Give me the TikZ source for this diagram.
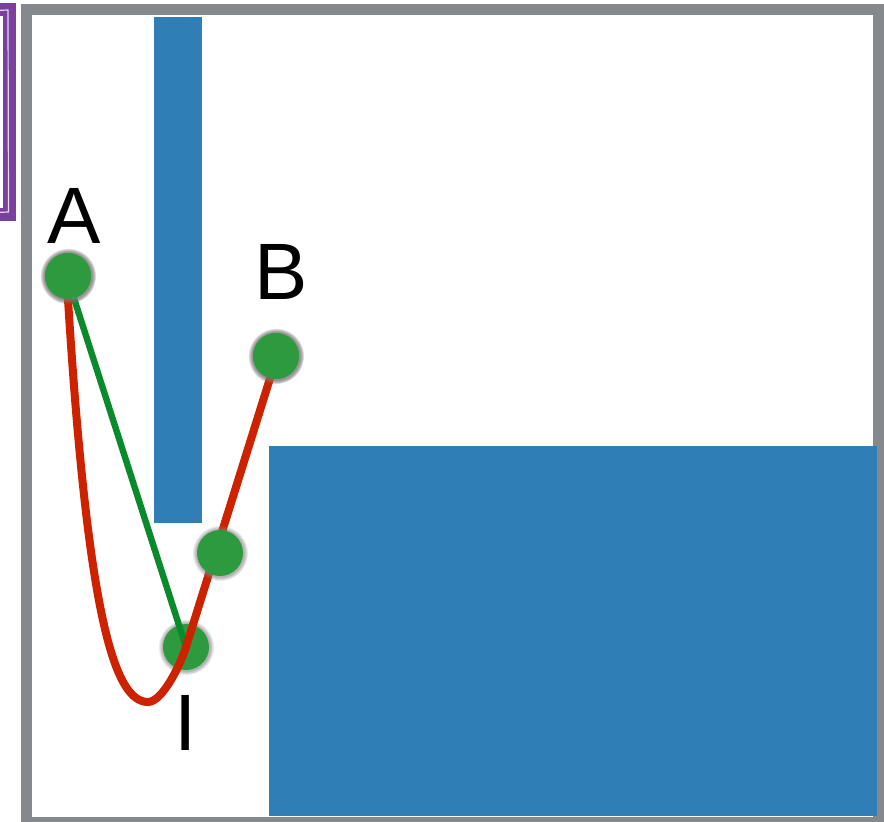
\documentclass[tikz,border=0pt]{standalone}
\usepackage{fontspec}
\setmainfont{Liberation Sans}
\usetikzlibrary{positioning, shadows}
\definecolor{FrameGray}{HTML}{85888C}
\definecolor{WallBlue}{HTML}{2F7FB6}
\definecolor{DotGreen}{HTML}{2E9A40}
\definecolor{PathGreen}{HTML}{0B8A2C}
\definecolor{PathRed}{HTML}{CC2200}
\definecolor{MarkPurple}{HTML}{7B3F9E}
\tikzset{
  wall/.style={fill=WallBlue, draw=none},
  waypoint/.style={circle, fill=DotGreen, minimum size=23pt, inner sep=0pt, circular drop shadow={shadow xshift=0pt, shadow yshift=0pt, shadow scale=1.22, opacity=0.6}},
  ptlabel/.style={inner sep=0pt, font=\fontsize{40}{48}\selectfont},
  straightpath/.style={draw=PathGreen, line width=3.2pt},
  curvedpath/.style={draw=PathRed, line width=4pt, line cap=round}
}

\begin{document}
\begin{tikzpicture}[x=0.5pt, y=-0.5pt]
\useasboundingbox (0,0) rectangle (884,821);
% frame and purple mark
\draw[FrameGray, line width=5.5pt] (26,9.5) rectangle (878.5,822.5);
\draw[MarkPurple, line width=6.5pt] (-20,9.5) rectangle (9.5,214);
\draw[white, line width=0.6pt, opacity=0.8] (-20,11) -- (8,10) -- (8.5,212) -- (-20,213);
% obstacles
\fill[wall] (154,17) rectangle (202,523);
\fill[wall] (269,446) rectangle (877,816);
% waypoints
\node[waypoint] (Idot) at (186,647) {};
\node[waypoint] (A) at (68,276) {};
\node[waypoint] (B) at (276,356) {};
% paths
\draw[straightpath] (A.-75) -- (Idot.center) -- (B.-105);
\draw[curvedpath] (A.south) .. controls (88,620) and (115,702) .. (148,702)
  .. controls (162,702) and (180,666) .. (Idot.center) -- (B.-105);
\node[waypoint] (M) at (220,553) {};
\node[waypoint] at (A) {};
\node[waypoint] at (B) {};
% labels
\node[ptlabel, above=4.5pt of A, xshift=3pt] (Alabel) {A};
\node[ptlabel, above=16.5pt of B, xshift=2.5pt] (Blabel) {B};
\node[ptlabel, below=12.5pt of Idot] (Ilabel) {I};
\end{tikzpicture}
\end{document}
